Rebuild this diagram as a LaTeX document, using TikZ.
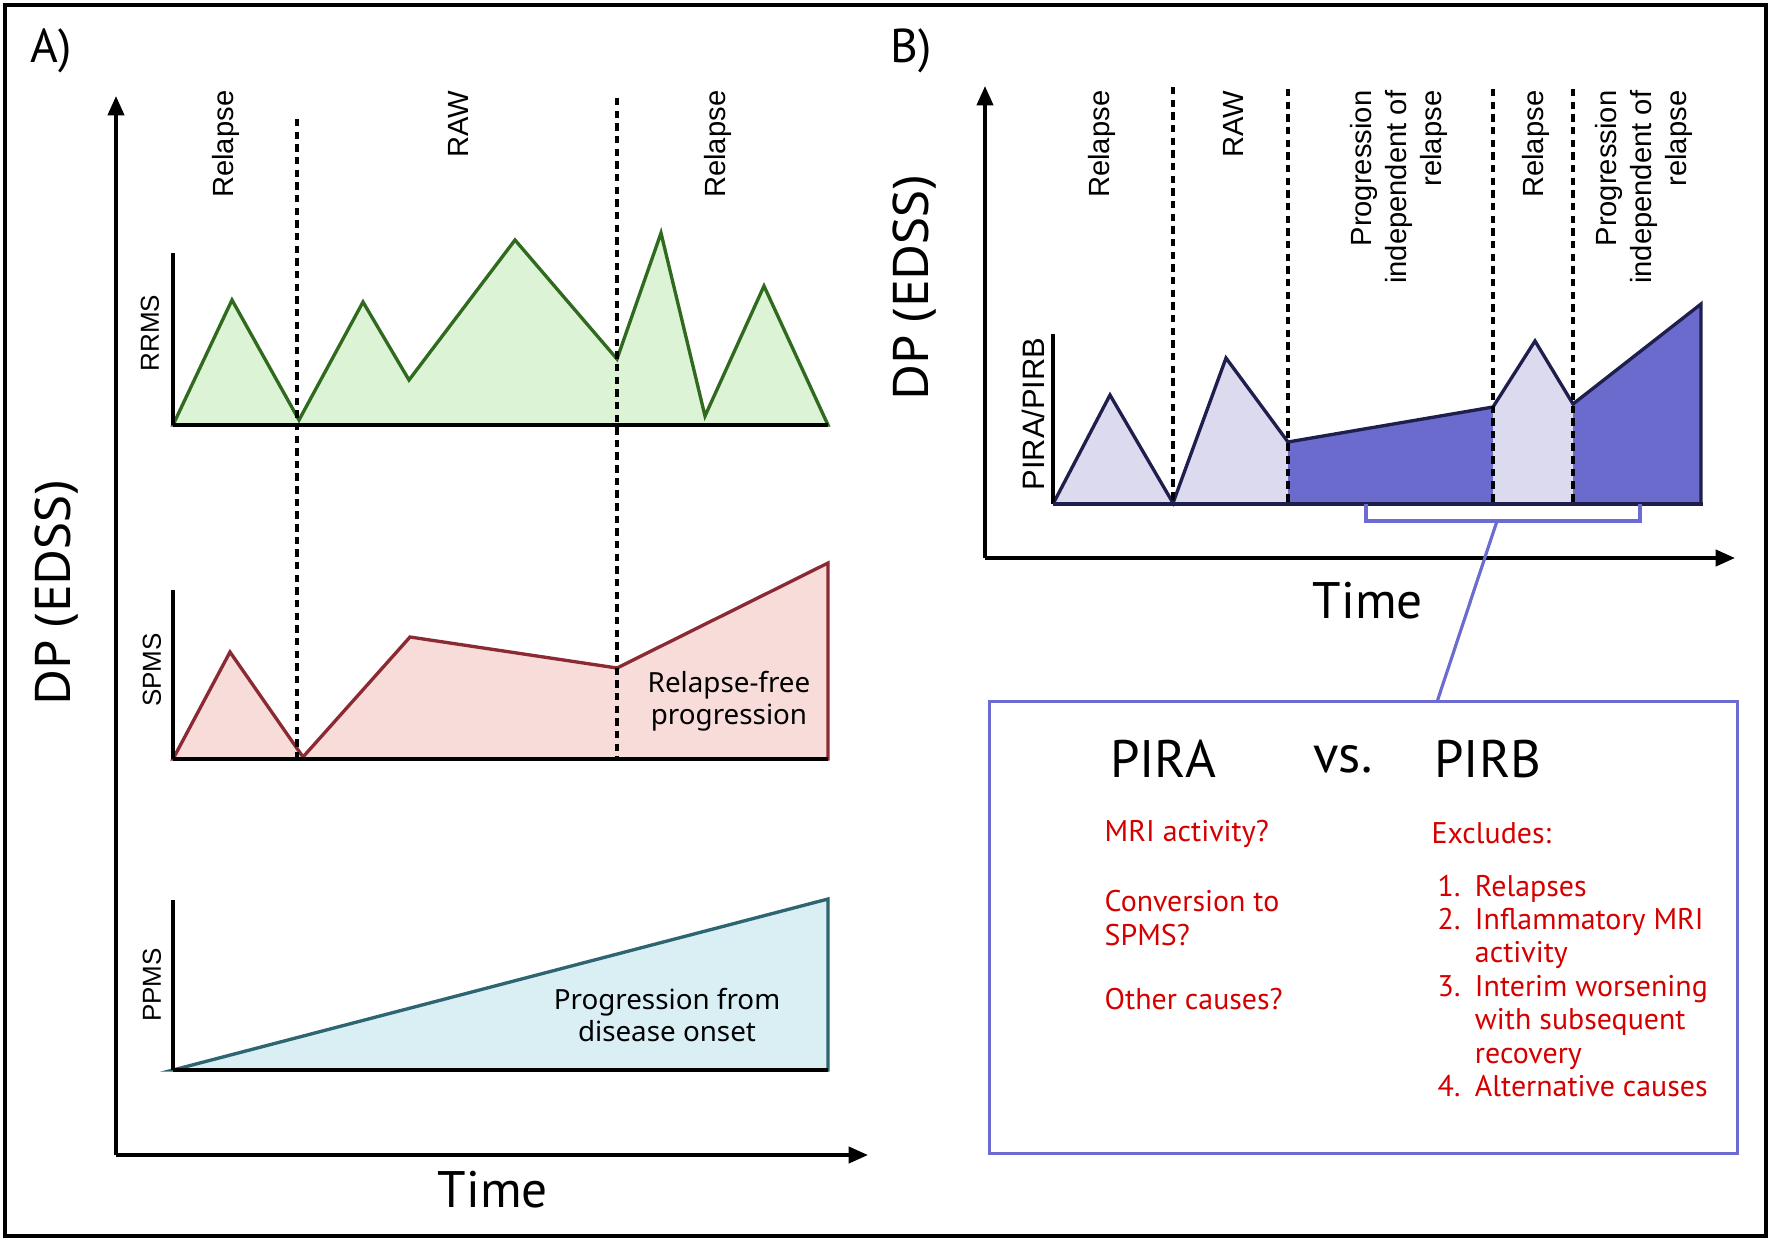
\documentclass[tikz,border=0pt]{standalone}
\usepackage{fontspec}
\setmainfont{Liberation Sans}
\newfontfamily\condf{PT Sans}
\newfontfamily\roundf{Noto Sans}
\usepackage{xcolor}
\usepackage{tikz}
\usetikzlibrary{arrows.meta}

\definecolor{rrmsline}{HTML}{2F6A1F}
\definecolor{rrmsfill}{HTML}{DDF3D6}
\definecolor{spmsline}{HTML}{8B2A33}
\definecolor{spmsfill}{HTML}{F8DCDA}
\definecolor{ppmsline}{HTML}{2D6571}
\definecolor{ppmsfill}{HTML}{D9EFF4}
\definecolor{pirline}{HTML}{1F1F4E}
\definecolor{pirlight}{HTML}{DCDAEE}
\definecolor{pirdark}{HTML}{6B6BCD}
\definecolor{linkblue}{HTML}{6B6BD0}
\definecolor{notered}{HTML}{D40000}

\begin{document}
\begin{tikzpicture}[x=0.01cm,y=-0.01cm,
    axisline/.style={line width=1pt,-{Triangle[length=5.5pt,width=4.6pt]}},
    subaxis/.style={line width=0.9pt},
    floorline/.style={line width=1.3pt},
    divline/.style={line width=0.9pt,dash pattern=on 2.1pt off 1.5pt},
    toplabel/.style={rotate=90,anchor=east,inner sep=0pt,align=right,font=\fontsize{8.3}{9.9}\selectfont},
    sidelabel/.style={rotate=90,inner sep=0pt,font=\fontsize{7.4}{8}\selectfont},
    dplabel/.style={rotate=90,inner sep=0pt,font=\roundf\fontsize{14}{16}\selectfont},
    timelabel/.style={inner sep=0pt,font=\condf\fontsize{14.6}{16}\selectfont},
    panellabel/.style={inner sep=0pt,font=\condf\fontsize{13.5}{15}\selectfont},
    note/.style={inner sep=0pt,align=center,font=\roundf\fontsize{7.9}{9.2}\selectfont},
    redtext/.style={inner sep=0pt,anchor=west,align=left,text=notered,font=\condf\fontsize{8.5}{9.5}\selectfont},
    linkline/.style={draw=linkblue,line width=0.9pt}]
    \useasboundingbox (0,0) rectangle (1772,1242);
    \draw[line width=1pt] (5,5) rectangle (1766,1236);

    % panel A
    \node[panellabel] (pa) at (51,51) {A)};
    \draw[axisline] (116,1155) -- (116,96);
    \draw[axisline] (116,1155) -- (868,1155);
    \node[dplabel] (dpa) at (57,593) {DP (EDSS)};
    \node[timelabel] (tima) at (493,1190) {Time};

    \filldraw[draw=rrmsline,fill=rrmsfill,line width=0.95pt] (173,425) -- (232,300) -- (299,420) -- (363,302) -- (409,380) -- (515,240) -- (617,359) -- (661,233) -- (705,416) -- (764,286) -- (828,425) -- cycle;
    \draw[subaxis] (173,253) -- (173,425);
    \draw[floorline] (173,425) -- (828,425);
    \node[sidelabel] (rrms) at (150,333) {RRMS};

    \filldraw[draw=spmsline,fill=spmsfill,line width=0.95pt] (173,759) -- (230,652) -- (303,757) -- (410,637) -- (617,668) -- (828,563) -- (828,759) -- cycle;
    \draw[subaxis] (173,590) -- (173,759);
    \draw[floorline] (173,759) -- (828,759);
    \node[sidelabel] (spms) at (152,670) {SPMS};
    \node[note] (rfp) at (729,701) {Relapse-free\\progression};

    \filldraw[draw=ppmsline,fill=ppmsfill,line width=0.95pt] (173,1070) -- (828,899) -- (828,1070) -- cycle;
    \draw[subaxis] (173,900) -- (173,1070);
    \draw[floorline] (173,1070) -- (828,1070);
    \node[sidelabel] (ppms) at (152,985) {PPMS};
    \node[note] (pfo) at (667,1015) {Progression from\\disease onset};

    \draw[divline] (297,119) -- (297,759);
    \draw[divline] (617,98) -- (617,759);
    \node[toplabel] (rela1) at (226,90) {Relapse};
    \node[toplabel] (rawa) at (458,90) {RAW};
    \node[toplabel] (rela2) at (718,90) {Relapse};

    % panel B
    \node[panellabel] (pb) at (911,51) {B)};
    \draw[axisline] (985,558) -- (985,86);
    \draw[axisline] (985,558) -- (1735,558);
    \node[dplabel] (dpb) at (915,288) {DP (EDSS)};
    \node[timelabel] (timb) at (1368,601) {Time};

    \fill[pirlight] (1053,504) -- (1110,395) -- (1173,503) -- (1226,358) -- (1288,442) -- (1288,504) -- cycle;
    \fill[pirdark] (1288,442) -- (1493,407) -- (1493,504) -- (1288,504) -- cycle;
    \fill[pirlight] (1493,407) -- (1535,341) -- (1573,404) -- (1573,504) -- (1493,504) -- cycle;
    \fill[pirdark] (1573,404) -- (1701,304) -- (1701,504) -- (1573,504) -- cycle;
    \draw[pirline,line width=0.95pt] (1053,504) -- (1110,395) -- (1173,503) -- (1226,358) -- (1288,442) -- (1493,407) -- (1535,341) -- (1573,404) -- (1701,304) -- (1701,504);
    \draw[subaxis] (1053,334) -- (1053,504);
    \draw[floorline,pirline] (1053,504) -- (1703,504);
    \node[sidelabel,font=\fontsize{8.8}{9}\selectfont] (pirab) at (1033,414) {PIRA/PIRB};

    \draw[divline] (1173,87) -- (1173,504);
    \draw[divline] (1288,89) -- (1288,504);
    \draw[divline] (1493,89) -- (1493,504);
    \draw[divline] (1573,89) -- (1573,504);
    \node[toplabel] (relb1) at (1102,90) {Relapse};
    \node[toplabel] (rawb) at (1233,90) {RAW};
    \node[toplabel] (pirb1) at (1399,90) {Progression\\independent of\\relapse};
    \node[toplabel] (relb2) at (1536,90) {Relapse};
    \node[toplabel] (pirb2) at (1644,90) {Progression\\independent of\\relapse};

    % bracket and comparison box
    \draw[linkline] (1366,504) -- (1366,521) -- (1640,521) -- (1640,504);
    \coordinate (brk) at (1497,521);
    \node[draw=linkblue,line width=0.9pt,minimum width=7.47cm,minimum height=4.51cm,inner sep=0pt] (cmpbox) at (1363.5,927.5) {};
    \coordinate (boxpin) at (1437,702);
    \draw[linkline] (brk) -- (boxpin);

    \node[inner sep=0pt,font=\condf\fontsize{15}{17}\selectfont] (pira) at (1163,759) {PIRA};
    \node[inner sep=0pt,font=\condf\fontsize{15}{17}\selectfont] (vs) at (1343,759) {vs.};
    \node[inner sep=0pt,font=\condf\fontsize{15}{17}\selectfont] (pirb) at (1488,759) {PIRB};

    \node[redtext] (mri) at (1104,834) {MRI activity?};
    \node[redtext] (conv) at (1104,918) {Conversion to\\SPMS?};
    \node[redtext] (other) at (1104,999) {Other causes?};
    \node[redtext] (excl) at (1431,833) {Excludes:};
    \node[redtext,anchor=north west] (exlist) at (1437,872) {\begin{tabular}{@{}p{10.6pt}@{}l@{}}
        1. & Relapses\\
        2. & Inflammatory MRI\\
           & activity\\
        3. & Interim worsening\\
           & with subsequent\\
           & recovery\\
        4. & Alternative causes
    \end{tabular}};
\end{tikzpicture}
\end{document}
